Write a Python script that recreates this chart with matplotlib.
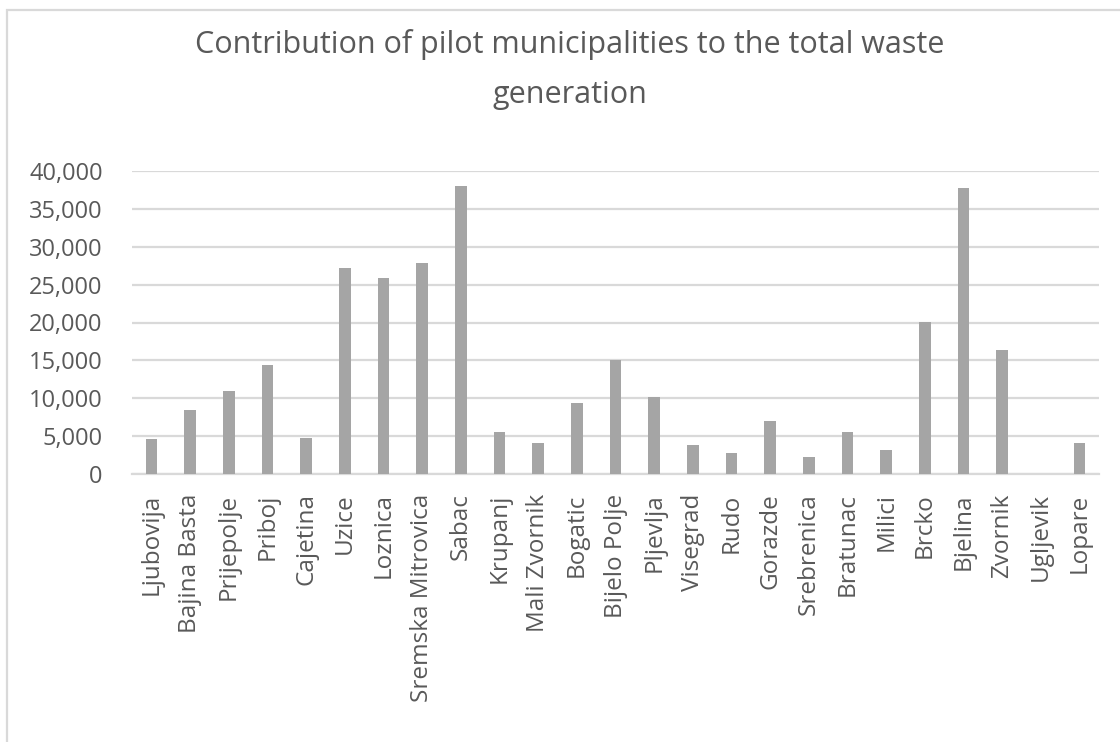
import matplotlib
matplotlib.use("Agg")
import matplotlib.pyplot as plt
from matplotlib.patches import Rectangle
from matplotlib.ticker import FuncFormatter

plt.rcParams["font.family"] = ["Open Sans", "DejaVu Sans"]

municipalities = [
    "Ljubovija", "Bajina Basta", "Prijepolje", "Priboj", "Cajetina", "Uzice",
    "Loznica", "Sremska Mitrovica", "Sabac", "Krupanj", "Mali Zvornik",
    "Bogatic", "Bijelo Polje", "Pljevlja", "Visegrad", "Rudo", "Gorazde",
    "Srebrenica", "Bratunac", "Milici", "Brcko", "Bjelina", "Zvornik",
    "Ugljevik", "Lopare",
]
waste = [
    4650, 8400, 11000, 14400, 4700, 27200,
    25900, 27850, 38050, 5550, 4050,
    9400, 15050, 10100, 3850, 2750, 7050,
    2300, 5550, 3150, 20100, 37750, 16350,
    0, 4150,
]
y_ticks = [0, 5000, 10000, 15000, 20000, 25000, 30000, 35000, 40000]

text_color = "#595959"
grid_color = "#D9D9D9"
bar_color = "#A5A5A5"

W, H = 1120, 742
fig = plt.figure(figsize=(W / 100, H / 100), dpi=100)
fig.patch.set_facecolor("white")

# chart frame
fig.patches.append(Rectangle((7 / W, -0.1), 1.2, 1 - 10 / H + 0.1,
                             transform=fig.transFigure, fill=False,
                             edgecolor=grid_color, linewidth=1.6))

ax = fig.add_axes([132 / W, 1 - 474 / H, 967 / W, 303 / H])
x = range(len(municipalities))
ax.bar(x, waste, width=0.3, color=bar_color, zorder=3)

ax.set_xlim(-0.5, len(municipalities) - 0.5)
ax.set_ylim(0, 40000)
ax.set_yticks(y_ticks)
ax.yaxis.set_major_formatter(FuncFormatter(lambda v, p: f"{int(v):,}"))
ax.set_xticks(list(x))
ax.set_xticklabels(municipalities, rotation=90)

ax.grid(axis="y", color=grid_color, linewidth=1.6, zorder=0)
for side in ("top", "right", "left"):
    ax.spines[side].set_visible(False)
ax.spines["bottom"].set_color(grid_color)
ax.spines["bottom"].set_linewidth(1.6)
ax.tick_params(axis="both", length=0, labelcolor=text_color)
ax.tick_params(axis="y", pad=21, labelsize=17)
ax.tick_params(axis="x", pad=14, labelsize=17.5)

fig.text(570 / W, 1 - 53 / H, "Contribution of pilot municipalities to the total waste",
         ha="center", va="baseline", fontsize=22, color=text_color)
fig.text(570 / W, 1 - 103 / H, "generation",
         ha="center", va="baseline", fontsize=22, color=text_color)

fig.savefig("out.png", dpi=100, facecolor="white")
